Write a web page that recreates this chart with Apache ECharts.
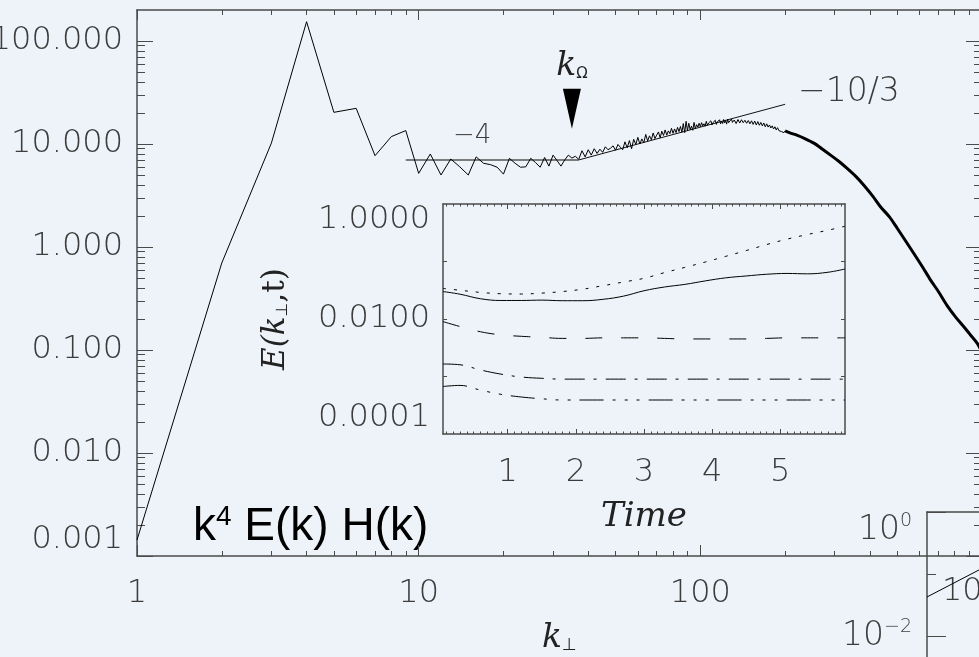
<!DOCTYPE html>
<html>
<head>
<meta charset="utf-8">
<script src="https://cdn.jsdelivr.net/npm/echarts@6.0.0/dist/echarts.min.js"></script>
<style>
html, body { margin: 0; padding: 0; background: #eef3fa; }
#chart { width: 979px; height: 657px; }
</style>
</head>
<body>
<div id="chart"></div>
<script>
// Compensated spectrum k^4 E(k) H(k) against k_perp (integer wavenumbers)
const kLow = [1,2,3,4,5,6,7,8,9,10,11,12,13,14,15,16,17,18,19,20,21,22,23,24,25,26,27,28,29,30,31,32,33,34,35,36,37,38,39,40,41,42,43,44,45,46,47,48,49,50,51,52];
const eLow = [0.00143,0.70,10.2,154,20.3,22.2,7.7,11.8,13.5,5.19,8.0,5.0,7.15,6.0,5.0,7.5,6.5,6.3,5.95,5.1,7.26,6.5,5.95,6.0,7.26,6.6,5.95,7.4,6.1,7.8,6.9,6.1,7.0,7.8,7.3,7.6,7.1,8.6,7.5,8.8,7.8,9.0,8.1,8.9,8.3,9.4,8.8,9.1,9.6,8.7,9.9,9.3];
const kMid = [53,54,55,56,57,58,59,60,61,62,63,64,65,66,67,68,69,70,71,72,73,74,75,76,77,78,79,80,81,82,83,84,85,86,87,88,89,90,91,92,93,94,95,96,97,98,99,100,101,102,103,104,105,106,107,108,109,110,111,112,113,114,115,116,117,118,119,120,121,122,123,124,125,126,127,128,129,130];
const eMid = [8.8,10.5,9.2,10.8,9.0,11.1,9.9,11.6,10.0,11.2,10.3,12.4,10.7,12.0,11.0,12.8,11.3,12.2,13.1,11.5,13.3,12.1,13.7,12.2,13.4,12.6,14.2,12.7,14.0,12.9,14.5,13.2,14.8,13.0,15.8,12.9,16.6,13.5,15.9,13.8,14.9,13.6,16.2,14.1,15.4,14.6,15.9,14.7,16.1,15.0,15.7,14.9,16.6,15.2,16.0,15.4,16.8,15.3,16.2,15.6,17.0,15.5,16.4,15.9,17.2,15.7,16.6,15.8,17.3,16.0,16.9,15.6,17.4,16.1,16.8,15.9,17.5,16.2];
const kUp = [132,134,136,138,140,142,144,146,148,150,152,154,156,158,160,162,164,166,168,170,172,174,176,178,180,182,184,186,188,190,192,194,196,198,200];
const eUp = [17.1,15.8,17.3,16.0,17.2,16.1,17.0,15.9,16.9,15.7,16.8,15.5,16.7,15.3,16.5,15.2,16.2,15.0,16.0,14.7,15.7,14.6,15.3,14.3,15.0,14.0,14.7,13.7,14.4,13.5,14.1,13.2,13.8,12.9,13.4];
// dissipative tail (dense, drawn as a heavier stroke)
const kTail = [200,210,220,235,253,270,290,310,332,355,380,410,436,470,500,535,572,615,656,700,752,805,862,910,962,1000];
const eTail = [13.4,12.7,12.2,11.3,10.2,9.0,7.8,6.8,5.8,4.9,4.0,3.1,2.46,1.95,1.52,1.15,0.87,0.64,0.48,0.37,0.27,0.21,0.168,0.14,0.116,0.095];

// power-law guides
const kSlope4 = [9, 37];
const eSlope4 = [7.0, 7.0];
const kSlope103 = [37, 200];
const eSlope103 = [7.0, 24.3];
const kOmega = 35, eOmega = 22;

// axis ticks
const xMajor = [1, 10, 100, 1000];
const xMinor = [2,3,4,5,6,7,8,9,20,30,40,50,60,70,80,90,200,300,400,500,600,700,800,900];
const xLabels = [1, 10, 100];
const yMajor = [0.001, 0.01, 0.1, 1, 10, 100];
const yMinor = [0.002,0.003,0.004,0.005,0.006,0.007,0.008,0.009,0.02,0.03,0.04,0.05,0.06,0.07,0.08,0.09,0.2,0.3,0.4,0.5,0.6,0.7,0.8,0.9,2,3,4,5,6,7,8,9,20,30,40,50,60,70,80,90];

// inset: E(k_perp, t) for several k_perp
const tInset = [0.05,0.3,0.6,0.9,1.2,1.5,1.8,2.1,2.4,2.7,3.0,3.3,3.6,3.9,4.2,4.5,4.8,5.1,5.4,5.7,5.95];
const eDotted = [0.034,0.0316,0.029,0.0275,0.0272,0.0282,0.030,0.033,0.038,0.044,0.051,0.064,0.079,0.098,0.123,0.155,0.197,0.245,0.295,0.35,0.41];
const eSolid = [0.030,0.027,0.0225,0.021,0.021,0.0213,0.0208,0.0208,0.022,0.025,0.031,0.036,0.040,0.046,0.052,0.056,0.060,0.062,0.061,0.065,0.074];
const eDashed = [0.0090,0.0074,0.0060,0.0053,0.0050,0.0048,0.0046,0.0046,0.0047,0.0047,0.0047,0.0046,0.0045,0.0045,0.0045,0.0045,0.0046,0.0047,0.0047,0.0047,0.0047];
const eDashDot = [0.00165,0.0016,0.0013,0.0011,0.00098,0.00093,0.0009,0.0009,0.0009,0.0009,0.0009,0.0009,0.0009,0.0009,0.0009,0.0009,0.0009,0.0009,0.0009,0.0009,0.0009];
const eDash3Dot = [0.00067,0.0007,0.00058,0.00049,0.00044,0.00041,0.00039,0.00039,0.00039,0.00039,0.00039,0.00039,0.00039,0.00039,0.00039,0.00039,0.00039,0.00039,0.00039,0.00039,0.00039];
const tMajor = [1, 2, 3, 4, 5];
const tMinor = [];
for (let i = 1; i < 60; i++) if (i % 10) tMinor.push(i / 10);
const insetYTicks = [0.001, 0.01, 0.1];
const insetYLabels = [0.0001, 0.01, 1];

// partial lower-right panel
const panelYLabels = [0.01, 1];
const xPanel = [0, 0.3];
const ePanel = [0.0426, 0.242];

const pairs = (xs, ys) => xs.map((x, i) => [x, ys[i]]);

const AX = '#4a4a4a';
const LIGHT = 'DejaVu Sans';
const tickText = { fontFamily: LIGHT, fontWeight: 200, fontSize: 32, color: '#3c3c3c' };

function axis(grid, pos, type, range, ticks, len, extra) {
  const a = {
    type: type, gridIndex: grid, position: pos, min: range[0], max: range[1],
    axisLine: { show: true, onZero: false, lineStyle: { color: AX, width: 1.5 } },
    axisTick: { show: ticks.length > 0, inside: true, length: len, customValues: ticks.length ? ticks : undefined,
                lineStyle: { color: AX, width: 1 } },
    axisLabel: { show: false },
    splitLine: { show: false },
    minorTick: { show: false },
    silent: true
  };
  if (type === 'log') a.logBase = 10;
  return Object.assign(a, extra || {});
}

const chart = echarts.init(document.getElementById('chart'), null, { renderer: 'canvas' });

const option = {
  backgroundColor: '#eef3fa',
  animation: false,
  grid: [
    { left: 137, top: 10, width: 845, height: 546, containLabel: false, outerBoundsMode: 'none' },
    { left: 443, top: 204, width: 402, height: 230, containLabel: false, outerBoundsMode: 'none' },
    { left: 927, top: 512, width: 300, height: 248, containLabel: false, outerBoundsMode: 'none' }
  ],
  xAxis: [
    axis(0, 'bottom', 'log', [1, 1000], xMajor, 11, {
      axisLabel: Object.assign({ show: true, customValues: xLabels, margin: 22, formatter: v => String(v) }, tickText),
      name: '{k|k}{s|⊥}', nameLocation: 'middle', nameGap: 66,
      nameTextStyle: { rich: {
        k: { fontFamily: 'DejaVu Serif', fontStyle: 'italic', fontSize: 33, color: '#222' },
        s: { fontFamily: 'DejaVu Sans', fontSize: 17, color: '#222', padding: [14, 0, 0, 0] }
      } }
    }),
    axis(0, 'bottom', 'log', [1, 1000], xMinor, 5, { axisLine: { show: false } }),
    axis(0, 'top', 'log', [1, 1000], xMajor, 10),
    axis(0, 'top', 'log', [1, 1000], xMinor, 5, { axisLine: { show: false } }),
    axis(1, 'bottom', 'value', [0.05, 5.95], tMajor, 5, {
      axisLabel: Object.assign({ show: true, customValues: tMajor, margin: 23, formatter: v => String(v) }, tickText),
      name: 'Time', nameLocation: 'middle', nameGap: 66,
      nameTextStyle: { fontFamily: 'DejaVu Serif', fontStyle: 'italic', fontSize: 34, color: '#222' }
    }),
    axis(1, 'bottom', 'value', [0.05, 5.95], tMinor, 2.5, { axisLine: { show: false } }),
    axis(1, 'top', 'value', [0.05, 5.95], tMajor, 5),
    axis(1, 'top', 'value', [0.05, 5.95], tMinor, 2.5, { axisLine: { show: false } }),
    axis(2, 'top', 'value', [0, 1], [], 0)
  ],
  yAxis: [
    axis(0, 'left', 'log', [0.001, 200], yMajor, 16, {
      axisLabel: Object.assign({ show: true, customValues: yMajor, margin: 14, formatter: v => v.toFixed(3),
        verticalAlignMinLabel: 'bottom' }, tickText)
    }),
    axis(0, 'left', 'log', [0.001, 200], yMinor, 8, { axisLine: { show: false } }),
    axis(0, 'right', 'log', [0.001, 200], yMajor, 16),
    axis(0, 'right', 'log', [0.001, 200], yMinor, 8, { axisLine: { show: false } }),
    axis(1, 'left', 'log', [0.0001, 1], insetYTicks, 4, {
      axisLabel: Object.assign({ show: true, customValues: insetYLabels, margin: 13, formatter: v => v.toFixed(4),
        verticalAlignMinLabel: 'bottom', verticalAlignMaxLabel: 'top' }, tickText),
      name: '{i|E(k}{s|⊥}{r|,t)}', nameLocation: 'middle', nameGap: 152, nameRotate: 90,
      nameTextStyle: { rich: {
        i: { fontFamily: 'DejaVu Serif', fontStyle: 'italic', fontSize: 31, color: '#222' },
        s: { fontFamily: 'DejaVu Sans', fontSize: 16, color: '#222', padding: [14, 0, 0, 0] },
        r: { fontFamily: 'DejaVu Serif', fontSize: 31, color: '#222' }
      } }
    }),
    axis(1, 'right', 'log', [0.0001, 1], insetYTicks, 4),
    axis(2, 'left', 'log', [0.0001, 1], [0.1], 9, {
      axisLabel: { show: true, customValues: panelYLabels, margin: 15,
        verticalAlignMaxLabel: 'top',
        formatter: v => v === 1 ? '{n|10}{e|0}' : '{n|10}{e|−2}',
        rich: {
          n: { fontFamily: LIGHT, fontWeight: 200, fontSize: 33, color: '#3c3c3c' },
          e: { fontFamily: LIGHT, fontWeight: 200, fontSize: 19, color: '#3c3c3c', padding: [0, 0, 18, 0] }
        } }
    }),
    axis(2, 'left', 'log', [0.0001, 1], [1, 0.01], 19, { axisLine: { show: false } })
  ],
  series: [
    { type: 'line', name: 'slope -4', xAxisIndex: 0, yAxisIndex: 0, data: pairs(kSlope4, eSlope4),
      symbol: 'none', lineStyle: { color: '#555', width: 1.5 }, z: 2, silent: true },
    { type: 'line', name: 'slope -10/3', xAxisIndex: 0, yAxisIndex: 0, data: pairs(kSlope103, eSlope103),
      symbol: 'none', lineStyle: { color: '#111', width: 1 }, z: 2, silent: true },
    { type: 'line', name: 'spectrum', xAxisIndex: 0, yAxisIndex: 0,
      data: pairs(kLow, eLow).concat(pairs(kMid, eMid), pairs(kUp, eUp)),
      symbol: 'none', lineStyle: { color: '#000', width: 1 }, z: 3, silent: true,
      markPoint: {
        symbol: 'triangle', symbolRotate: 180, symbolSize: [18, 40],
        itemStyle: { color: '#000' },
        label: { show: true, position: 'top', distance: 6, formatter: '{k|k}{o|Ω}',
          rich: {
            k: { fontFamily: 'DejaVu Serif', fontStyle: 'italic', fontSize: 33, color: '#222' },
            o: { fontFamily: 'DejaVu Sans', fontSize: 15, color: '#222', padding: [16, 0, 0, 0] }
          } },
        data: [{ coord: [kOmega, eOmega] }]
      } },
    { type: 'line', name: 'spectrum tail', xAxisIndex: 0, yAxisIndex: 0, data: pairs(kTail, eTail),
      symbol: 'none', smooth: 0.3, lineStyle: { color: '#000', width: 3 }, z: 3, silent: true },

    { type: 'line', xAxisIndex: 4, yAxisIndex: 4, data: pairs(tInset, eDotted), symbol: 'none', smooth: 0.4,
      lineStyle: { color: '#000', width: 1, type: [3, 8] }, z: 4, silent: true },
    { type: 'line', xAxisIndex: 4, yAxisIndex: 4, data: pairs(tInset, eSolid), symbol: 'none', smooth: 0.4,
      lineStyle: { color: '#000', width: 1 }, z: 4, silent: true },
    { type: 'line', xAxisIndex: 4, yAxisIndex: 4, data: pairs(tInset, eDashed), symbol: 'none', smooth: 0.4,
      lineStyle: { color: '#000', width: 1, type: [17, 19] }, z: 4, silent: true },
    { type: 'line', xAxisIndex: 4, yAxisIndex: 4, data: pairs(tInset, eDashDot), symbol: 'none', smooth: 0.4,
      lineStyle: { color: '#000', width: 1, type: [20, 9, 3, 9] }, z: 4, silent: true },
    { type: 'line', xAxisIndex: 4, yAxisIndex: 4, data: pairs(tInset, eDash3Dot), symbol: 'none', smooth: 0.4,
      lineStyle: { color: '#000', width: 1, type: [24, 9, 3, 9, 3, 9, 3, 9] }, z: 4, silent: true },

    { type: 'line', xAxisIndex: 8, yAxisIndex: 6, data: pairs(xPanel, ePanel), symbol: 'none',
      lineStyle: { color: '#000', width: 1 }, z: 4, silent: true }
  ],
  graphic: [
    { type: 'text', x: 453, y: 136, silent: true,
      style: { text: '−4', fontFamily: LIGHT, fontWeight: 200, fontSize: 26, fill: '#3c3c3c', verticalAlign: 'middle' } },
    { type: 'text', x: 798, y: 92, silent: true,
      style: { text: '−10/3', fontFamily: LIGHT, fontWeight: 200, fontSize: 33, fill: '#3c3c3c', verticalAlign: 'middle' } },
    { type: 'text', x: 193, y: 527, silent: true,
      style: { text: '{t|k}{s|4}{t| E(k) H(k)}', verticalAlign: 'middle',
        rich: {
          t: { fontFamily: 'Liberation Sans', fontSize: 46, fill: '#000' },
          s: { fontFamily: 'Liberation Sans', fontSize: 28, fill: '#000', padding: [0, 0, 20, 0] }
        } } },
    { type: 'text', x: 942, y: 592, silent: true, z: 1,
      style: { text: '10', fontFamily: LIGHT, fontWeight: 200, fontSize: 32, fill: '#3c3c3c', verticalAlign: 'middle' } }
  ]
};

chart.setOption(option);
</script>
</body>
</html>
